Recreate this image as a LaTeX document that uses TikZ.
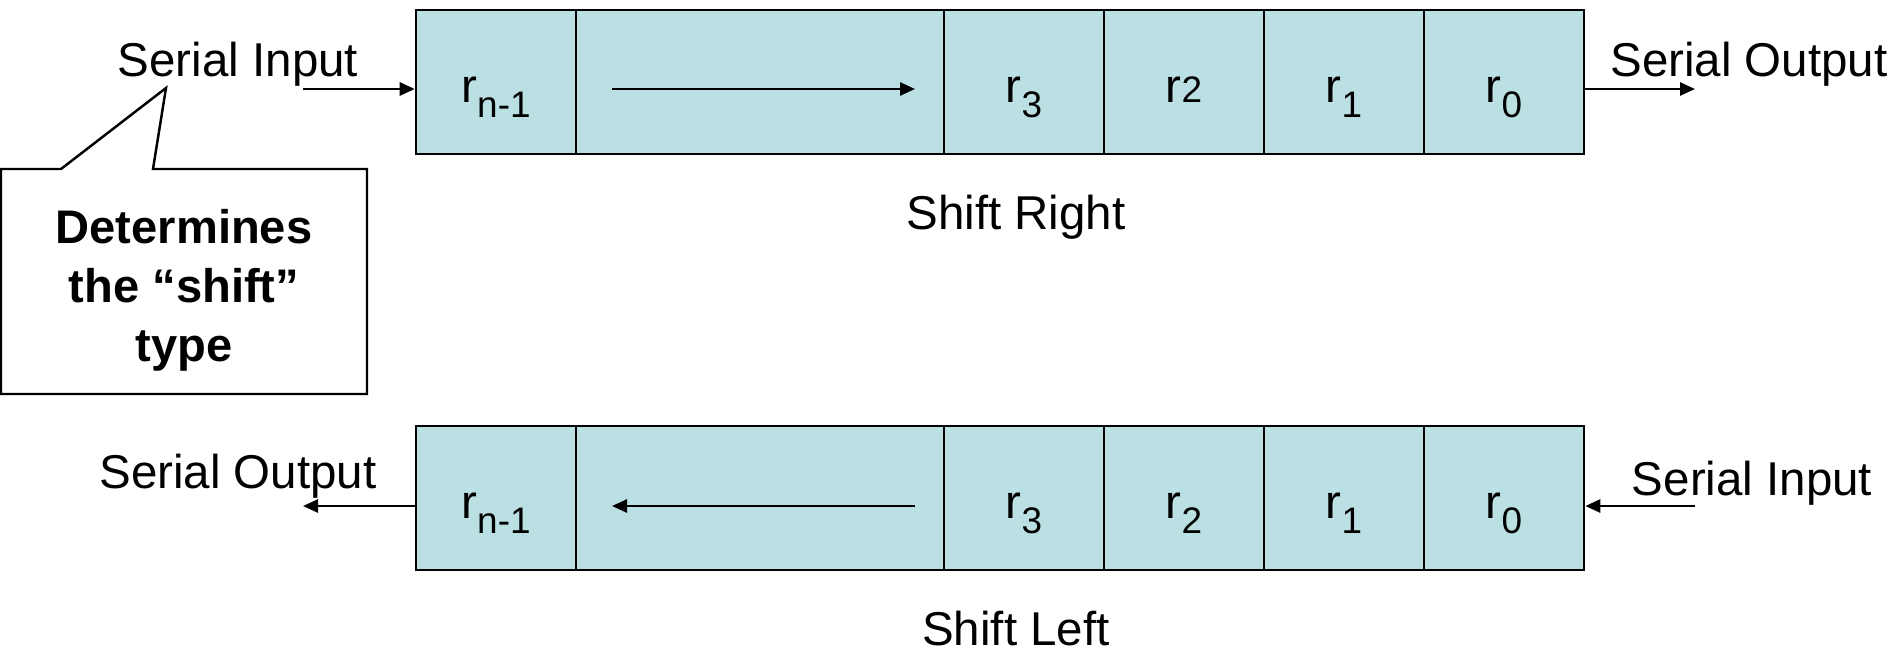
\documentclass[tikz,border=0pt]{standalone}
\usepackage{fontspec}
\setmainfont{Liberation Sans}
\usepackage{tikz}
\usetikzlibrary{shapes,arrows.meta,positioning}
\definecolor{regfill}{RGB}{187,224,227}
\tikzstyle{rnode} = [rectangle, draw, fill=regfill, line width=0.7pt, minimum width=1.6cm, minimum height=1.44cm, inner sep=0pt, text height=0.45cm, text depth=0.05cm, font=\fontsize{13.5}{15}\selectfont]
\tikzstyle{wide} = [minimum width=3.68cm]
\tikzstyle{arrline} = [draw, line width=0.75pt, -{Triangle[length=0.15cm,width=0.13cm]}]
\tikzstyle{lbl} = [inner sep=0pt, anchor=base, font=\fontsize{13.5}{15}\selectfont]
\newcommand{\rsub}[1]{r\raisebox{-0.33em}{\fontsize{10.5}{12}\selectfont #1}}

\begin{document}
\begin{tikzpicture}[x=0.01cm, y=-0.01cm]
		\useasboundingbox (0,0) rectangle (1901,651);
		% shift right
		\node [rnode] (tn) at (496,82) {\rsub{n-1}};
		\node [rnode, wide] (tmid) at (760,82) {};
		\node [rnode] (t3) at (1024,82) {\rsub{3}};
		\node [rnode] (t2) at (1184,82) {r{\fontsize{10.5}{12}\selectfont 2}};
		\node [rnode] (t1) at (1344,82) {\rsub{1}};
		\node [rnode] (t0) at (1504,82) {\rsub{0}};
		
		\coordinate (tfrom) at (612,89);
		\coordinate (tto) at (915,89);
		\coordinate (tinstart) at (303,89);
		\coordinate (toutend) at (1695,89);
		
		\node [lbl] (tin) at (238,76) {Serial Input};
		\node [lbl] (tout) at (1749,76) {Serial Output};
		\node [lbl] (tcap) at (1016,229) {Shift Right};
		
		\path [arrline] (tfrom) -- (tto);
		\path [arrline] (tinstart) -- (tinstart -| tn.west);
		\path [arrline] (toutend -| t0.east) -- (toutend);
		
		% shift left
		\node [rnode] (bn) at (496,498) {\rsub{n-1}};
		\node [rnode, wide] (bmid) at (760,498) {};
		\node [rnode] (b3) at (1024,498) {\rsub{3}};
		\node [rnode] (b2) at (1184,498) {\rsub{2}};
		\node [rnode] (b1) at (1344,498) {\rsub{1}};
		\node [rnode] (b0) at (1504,498) {\rsub{0}};
		
		\coordinate (bfrom) at (915,506);
		\coordinate (bto) at (612,506);
		\coordinate (boutend) at (303,506);
		\coordinate (binstart) at (1695,506);
		
		\node [lbl] (bout) at (238,488) {Serial Output};
		\node [lbl] (bin) at (1752,495) {Serial Input};
		\node [lbl] (bcap) at (1016,645) {Shift Left};
		
		\path [arrline] (bfrom) -- (bto);
		\path [arrline] (boutend -| bn.west) -- (boutend);
		\path [arrline] (binstart) -- (binstart -| b0.east);
		
		% callout
		\path [draw, line width=0.7pt] (1,169) -- (61,169) -- (166,88) -- (153,169) -- (367,169) -- (367,394) -- (1,394) -- cycle;
		\node [font=\bfseries\fontsize{13.4}{16.8}\selectfont, align=center] (note) at (184,290) {Determines\\the “shift”\\type};
\end{tikzpicture}
\end{document}
